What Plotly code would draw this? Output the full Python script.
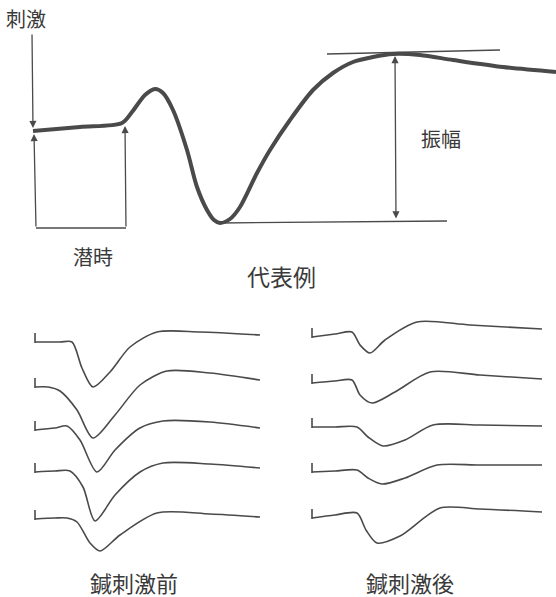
import plotly.graph_objects as go

W, H = 556, 597
INK = "#4a4a4a"
TXT = "#3a3a3a"
FONT = "Noto Sans CJK JP"

# Representative evoked waveform (time, amplitude) on the page frame
MAIN_T = [33, 80, 122, 132, 145, 155, 163, 173, 187, 197, 207, 214, 220, 230, 240, 257, 270, 290, 313, 333, 353, 373, 393, 420, 453, 503, 556]
MAIN_V = [131, 127, 123, 112, 95, 89, 93, 110, 150, 187, 210, 220, 223, 219, 207, 173, 150, 120, 90, 73, 62, 57, 54, 55, 60, 67, 72]

# Five sweeps before acupuncture stimulation
PRE_T = [
    [35, 60, 72, 82, 93, 110, 130, 157, 200, 260],
    [35, 48, 60, 77, 93, 115, 140, 167, 210, 260],
    [35, 55, 67, 80, 97, 115, 140, 163, 210, 260],
    [35, 55, 70, 83, 95, 115, 140, 163, 210, 260],
    [35, 55, 67, 77, 90, 100, 120, 157, 210, 260],
]
PRE_V = [
    [342, 342, 342, 368, 387, 372, 347, 332, 332, 335],
    [387, 387, 391, 410, 438, 415, 385, 371, 373, 380],
    [430, 428, 426, 440, 472, 450, 428, 421, 422, 428],
    [472, 471, 471, 487, 521, 495, 472, 463, 464, 468],
    [519, 518, 518, 522, 543, 551, 535, 513, 514, 517],
]

# Five sweeps after acupuncture stimulation
POST_T = [
    [312, 335, 352, 360, 370, 385, 417, 470, 542],
    [312, 335, 352, 360, 372, 395, 430, 480, 542],
    [312, 335, 357, 368, 383, 405, 433, 480, 542],
    [312, 335, 357, 368, 382, 405, 437, 480, 542],
    [312, 335, 357, 366, 377, 400, 440, 480, 542],
]
POST_V = [
    [337, 334, 332, 345, 353, 340, 322, 325, 329],
    [383, 381, 380, 395, 403, 392, 372, 375, 379],
    [427, 427, 427, 437, 446, 440, 425, 425, 426],
    [472, 471, 470, 478, 484, 478, 465, 465, 465],
    [518, 515, 513, 530, 543, 536, 508, 509, 512],
]
TICK_LEN = 9

LABELS = [
    ("刺激", 26, 18, 20),
    ("潜時", 93, 256, 20),
    ("振幅", 441, 138, 20),
    ("代表例", 281, 276, 23),
    ("鍼刺激前", 134, 582, 22),
    ("鍼刺激後", 410, 582, 22),
]

fig = go.Figure()

fig.add_trace(go.Scatter(x=MAIN_T, y=MAIN_V, mode="lines",
                         line=dict(color=INK, width=4, shape="spline", smoothing=0.8),
                         hoverinfo="skip"))

for ts, vs in list(zip(PRE_T, PRE_V)) + list(zip(POST_T, POST_V)):
    fig.add_trace(go.Scatter(x=ts, y=vs, mode="lines",
                             line=dict(color=INK, width=1.6, shape="spline", smoothing=0.8),
                             hoverinfo="skip"))
    # stimulus marker at the start of each sweep
    fig.add_trace(go.Scatter(x=[ts[0], ts[0]], y=[vs[0] - TICK_LEN, vs[0] + 1], mode="lines",
                             line=dict(color=INK, width=1.6), hoverinfo="skip"))

thin = dict(color=INK, width=1.3)
# tangent at the positive peak and baseline at the negative trough
peak_i = MAIN_V.index(min(MAIN_V))
trough_i = MAIN_V.index(max(MAIN_V))
fig.add_shape(type="line", x0=327, y0=MAIN_V[peak_i], x1=500, y1=MAIN_V[peak_i] - 4, line=thin)
fig.add_shape(type="line", x0=MAIN_T[trough_i], y0=MAIN_V[trough_i], x1=447, y1=MAIN_V[trough_i] - 2, line=thin)
# latency bracket
fig.add_shape(type="line", x0=36, y0=228, x1=126, y1=228, line=thin)

arrow = dict(xref="x", yref="y", axref="x", ayref="y", text="", showarrow=True,
             arrowhead=2, arrowsize=1.1, arrowwidth=1.3, arrowcolor=INK)
fig.add_annotation(x=MAIN_T[0], y=MAIN_V[0] - 3, ax=32, ay=33, **arrow)
fig.add_annotation(x=MAIN_T[0] + 1, y=MAIN_V[0] + 3, ax=36, ay=228, **arrow)
fig.add_annotation(x=MAIN_T[2] + 3, y=MAIN_V[2] + 3, ax=126, ay=228, **arrow)
fig.add_annotation(x=MAIN_T[peak_i] + 2, y=MAIN_V[peak_i] + 2, ax=396, ay=MAIN_V[trough_i] - 3,
                   arrowside="end+start", **arrow)

for txt, x, y, size in LABELS:
    fig.add_annotation(x=x, y=y, xref="x", yref="y", text=txt, showarrow=False,
                       font=dict(family=FONT, size=size, color=TXT))

fig.update_layout(width=W, height=H, margin=dict(l=0, r=0, t=0, b=0),
                  paper_bgcolor="white", plot_bgcolor="white", showlegend=False)
fig.update_xaxes(range=[0, W], visible=False, fixedrange=True)
fig.update_yaxes(range=[H, 0], visible=False, fixedrange=True)

fig.write_html("out.html", config={"displayModeBar": False})
